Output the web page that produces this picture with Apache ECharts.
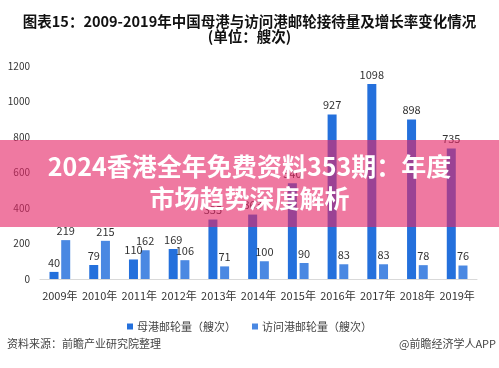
<!DOCTYPE html>
<html>
<head>
<meta charset="utf-8">
<script src="https://cdn.jsdelivr.net/npm/echarts@6/dist/echarts.min.js"></script>
<style>html,body{margin:0;padding:0;background:#fff}#c{width:499px;height:368px}</style>
</head>
<body>
<div id="c"></div>
<script>
var categories = ['2009年','2010年','2011年','2012年','2013年','2014年','2015年','2016年','2017年','2018年','2019年'];
var homeport = [40, 79, 110, 169, 335, 363, 540, 927, 1098, 898, 735];
var visiting = [219, 215, 162, 106, 71, 100, 90, 83, 83, 78, 76];
var yTicks = [0, 200, 400, 600, 800, 1000, 1200];
var seriesNames = ['母港邮轮量（艘次）', '访问港邮轮量（艘次）'];

var font = '"Noto Sans CJK SC", "Microsoft YaHei", sans-serif';
var chart = echarts.init(document.getElementById('c'), null, {renderer: 'canvas'});
var labelStyle = {show: true, position: 'top', distance: 4, fontSize: 11, color: '#333', fontFamily: font};
chart.setOption({
  animation: false,
  backgroundColor: '#fff',
  title: {
    text: '图表15：2009-2019年中国母港与访问港邮轮接待量及增长率变化情况\n(单位：艘次)',
    left: 'center', top: 9,
    textStyle: {fontSize: 14.5, fontWeight: 'bold', color: '#111', fontFamily: font, lineHeight: 15}
  },
  legend: {
    data: seriesNames, left: 'center', top: 316,
    icon: 'rect', itemWidth: 6, itemHeight: 6, itemGap: 16,
    textStyle: {fontSize: 11, color: '#444', fontFamily: font, padding: [0,0,0,-1]}
  },
  grid: {left: 40, right: 22, top: 66, bottom: 89},
  xAxis: {
    type: 'category', data: categories,
    axisLine: {lineStyle: {color: '#d9d9d9', width: 1}},
    axisTick: {show: false},
    axisLabel: {fontSize: 11, color: '#333', margin: 11, fontFamily: font, interval: 0}
  },
  yAxis: {
    type: 'value', min: yTicks[0], max: yTicks[yTicks.length-1], interval: 200,
    axisLine: {show: false}, axisTick: {show: false}, splitLine: {show: false},
    axisLabel: {fontSize: 10, color: '#333', margin: 10, fontFamily: font,
      formatter: function (v) { return String(v); }}
  },
  series: [
    {name: seriesNames[0], type: 'bar', data: homeport, barWidth: 9, barGap: '30%',
     itemStyle: {color: '#2470dc'}, label: labelStyle},
    {name: seriesNames[1], type: 'bar', data: visiting, barWidth: 9,
     itemStyle: {color: '#4a88e2'}, label: labelStyle}
  ],
  graphic: [
    {type: 'rect', left: 0, top: 140, z: 100, shape: {width: 499, height: 87},
     style: {fill: 'rgba(229,39,104,0.62)'}},
    {type: 'text', left: 'center', top: 154, z: 101,
     style: {text: '2024香港全年免费资料353期：年度', fill: '#fff', font: 'bold 25px ' + font}},
    {type: 'text', left: 'center', top: 186, z: 101,
     style: {text: '市场趋势深度解析', fill: '#fff', font: 'bold 25px ' + font}},
    {type: 'text', left: 7, top: 338, style: {text: '资料来源：前瞻产业研究院整理', fill: '#444', font: '11px ' + font}},
    {type: 'text', right: 3, top: 338, style: {text: '@前瞻经济学人APP', fill: '#444', font: '11px ' + font}}
  ]
});
</script>
</body>
</html>
